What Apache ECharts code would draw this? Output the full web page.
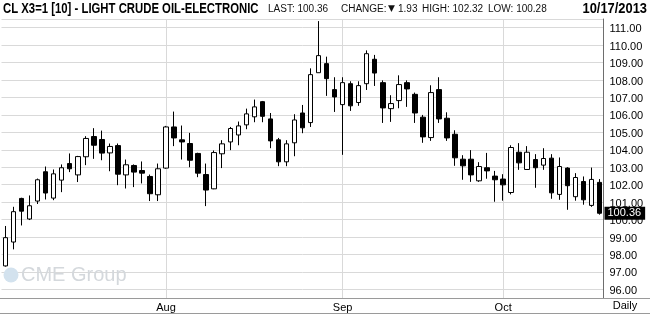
<!DOCTYPE html>
<html>
<head>
<meta charset="utf-8">
<script src="https://cdn.jsdelivr.net/npm/echarts@6/dist/echarts.min.js"></script>
<style>
html,body{margin:0;padding:0;background:#fff;}
#chart{width:650px;height:314px;}
</style>
</head>
<body>
<div id="chart"></div>
<script>
// ---- data ----
const dates = [
  '07/03','07/05','07/08','07/09','07/10','07/11','07/12','07/15','07/16','07/17',
  '07/18','07/19','07/22','07/23','07/24','07/25','07/26','07/29','07/30','07/31',
  '08/01','08/02','08/05','08/06','08/07','08/08','08/09','08/12','08/13','08/14',
  '08/15','08/16','08/19','08/20','08/21','08/22','08/23','08/26','08/27','08/28',
  '08/29','08/30','09/03','09/04','09/05','09/06','09/09','09/10','09/11','09/12',
  '09/13','09/16','09/17','09/18','09/19','09/20','09/23','09/24','09/25','09/26',
  '09/27','09/30','10/01','10/02','10/03','10/04','10/07','10/08','10/09','10/10',
  '10/11','10/14','10/15','10/16','10/17'
];
const opens = [
  97.34,98.71,101.21,100.03,101.06,102.74,101.23,102.26,103.21,102.56,
  103.60,104.76,104.59,103.82,104.24,102.56,103.10,102.81,102.47,101.42,
  102.95,105.31,104.57,104.36,103.79,102.58,101.76,103.77,104.45,104.85,
  105.43,105.89,106.76,105.77,104.57,103.31,104.40,106.11,105.56,108.42,
  108.94,107.45,106.59,107.79,106.71,107.79,109.19,107.85,106.36,106.82,
  107.85,107.18,105.87,104.70,107.45,105.81,104.89,103.46,103.46,102.22,
  102.97,102.49,102.32,101.55,103.86,102.87,103.44,103.12,103.52,101.44,
  102.95,101.31,102.18,100.81,102.13
];
const closes = [
  98.96,100.45,100.48,100.79,102.28,101.52,102.62,102.97,102.91,103.61,
  104.65,104.26,103.81,104.19,102.60,103.14,102.72,102.66,101.48,102.91,
  105.31,104.68,104.45,103.40,102.66,101.69,103.84,104.34,105.22,105.37,
  106.06,106.46,105.92,104.51,103.31,104.34,105.71,105.26,108.31,109.40,
  108.08,107.03,107.85,106.52,107.68,109.51,108.40,106.40,106.65,107.74,
  107.49,106.11,104.74,107.28,105.77,104.68,103.54,103.08,102.56,103.04,
  102.79,102.28,101.99,104.13,103.25,103.86,102.97,103.50,101.53,103.04,
  101.94,102.41,101.13,102.30,100.36
];
const lows = [
  97.30,98.29,99.66,99.97,100.89,101.15,101.11,101.57,102.72,102.15,
  103.12,103.48,103.40,102.77,101.97,101.78,101.86,102.07,101.06,101.06,
  102.91,104.21,103.44,103.00,102.43,100.77,101.74,102.95,103.98,104.26,
  105.18,105.58,105.58,104.09,103.06,103.06,103.63,104.95,105.31,108.42,
  107.09,106.17,103.71,106.23,106.52,107.43,107.66,105.54,105.60,106.38,
  106.46,105.54,104.40,104.51,105.54,104.51,103.08,102.28,102.16,102.16,
  102.34,101.02,101.08,101.44,102.85,102.85,101.82,102.85,101.19,101.13,
  100.56,101.08,100.85,100.73,100.28
];
const highs = [
  99.63,100.73,101.25,101.38,102.35,103.04,102.87,103.16,103.79,103.65,
  104.78,105.24,105.10,104.36,104.36,103.44,103.16,103.33,102.58,103.21,
  105.37,106.19,105.39,104.97,103.83,103.21,103.96,104.55,105.31,105.62,
  106.36,106.88,106.80,106.11,104.68,104.55,106.04,106.57,108.67,111.38,
  109.34,108.16,108.16,107.93,107.93,109.70,109.44,107.98,107.13,108.27,
  107.98,107.28,106.00,107.70,108.16,106.15,105.12,103.69,103.98,103.29,
  103.82,102.79,102.60,104.26,104.38,104.21,103.75,104.09,103.75,103.56,
  103.00,102.66,102.47,102.98,102.32
];
const monthNames = {'08':'Aug','09':'Sep','10':'Oct'};
const lastPrice = 100.36;
const yMin = 95.5, yMax = 111.5;

// ---- build ----
const candles = dates.map((d, i) => [opens[i], closes[i], lows[i], highs[i]]);
const isMonthStart = (i) => i > 0 && dates[i].slice(0, 2) !== dates[i - 1].slice(0, 2);

const FONT = '"Liberation Sans", Arial, sans-serif';
const HDR = '10px ' + FONT;

const chart = echarts.init(document.getElementById('chart'), null, {renderer: 'canvas'});
chart.setOption({
  animation: false,
  backgroundColor: '#fff',
  grid: {left: 1.5, right: 46.5, top: 19, bottom: 16, containLabel: false},
  xAxis: {
    type: 'category',
    data: dates,
    boundaryGap: true,
    axisLine: {show: true, lineStyle: {color: '#9a9a9a', width: 1}},
    axisTick: {show: false},
    axisLabel: {
      interval: (i) => isMonthStart(i),
      formatter: (v) => monthNames[v.slice(0, 2)] || '',
      margin: 4, color: '#000', fontSize: 11, fontFamily: FONT
    },
    splitLine: {
      show: true,
      interval: (i) => isMonthStart(i),
      alignWithLabel: true,
      lineStyle: {color: '#d9d9d9', width: 1}
    }
  },
  yAxis: {
    type: 'value',
    position: 'right',
    min: yMin,
    max: yMax,
    splitNumber: 16,
    axisLine: {show: true, lineStyle: {color: '#6e6e6e', width: 1}},
    axisTick: {show: false},
    axisLabel: {
      formatter: (v) => Number.isInteger(v) ? v.toFixed(2) : '',
      margin: 6, color: '#000', fontSize: 11, fontFamily: FONT,
      verticalAlign: 'top', padding: [-4, 0, 0, 0]
    },
    splitLine: {show: true, lineStyle: {color: '#d9d9d9', width: 1}}
  },
  series: [{
    type: 'candlestick',
    data: candles,
    barWidth: 5,
    clip: false,
    itemStyle: {
      color: '#ffffff', color0: '#000000',
      borderColor: '#000000', borderColor0: '#000000',
      borderWidth: 1
    },
    markLine: {
      silent: true,
      symbol: ['none', 'none'],
      lineStyle: {color: 'rgba(0,0,0,0)', width: 0},
      label: {
        show: true, position: 'end', distance: 1,
        formatter: lastPrice.toFixed(2),
        backgroundColor: '#000', color: '#fff',
        fontSize: 11, fontFamily: FONT, padding: [1, 4, 1, 3]
      },
      data: [{yAxis: lastPrice}],
      z: 10
    }
  }],
  graphic: [
    {type: 'text', z: 100, x: 3, y: 9, scaleX: 0.81,
      style: {text: 'CL X3=1 [10] - LIGHT CRUDE OIL-ELECTRONIC', x: 0, y: 0,
      textVerticalAlign: 'middle', font: 'bold 14px ' + FONT, fill: '#000'}},
    {type: 'text', z: 100, style: {text: 'LAST: 100.36', x: 268, y: 9,
      textVerticalAlign: 'middle', font: HDR, fill: '#111'}},
    {type: 'text', z: 100, style: {text: 'CHANGE:', x: 341, y: 9,
      textVerticalAlign: 'middle', font: HDR, fill: '#111'}},
    {type: 'text', z: 100, style: {text: '\u25BC', x: 388, y: 9,
      textVerticalAlign: 'middle', font: '9px "DejaVu Sans", sans-serif', fill: '#111'}},
    {type: 'text', z: 100, style: {text: '1.93', x: 398, y: 9,
      textVerticalAlign: 'middle', font: HDR, fill: '#111'}},
    {type: 'text', z: 100, style: {text: 'HIGH: 102.32', x: 422, y: 9,
      textVerticalAlign: 'middle', font: HDR, fill: '#111'}},
    {type: 'text', z: 100, style: {text: 'LOW: 100.28', x: 488, y: 9,
      textVerticalAlign: 'middle', font: HDR, fill: '#111'}},
    {type: 'text', z: 100, x: 647, y: 9, scaleX: 0.92,
      style: {text: '10/17/2013', x: 0, y: 0, textAlign: 'right',
      textVerticalAlign: 'middle', font: 'bold 14px ' + FONT, fill: '#000'}},
    {type: 'line', z: 50, shape: {x1: 0, y1: 298.5, x2: 650, y2: 298.5},
      style: {stroke: '#9a9a9a', lineWidth: 1}},
    {type: 'line', z: 50, shape: {x1: 0, y1: 313.5, x2: 650, y2: 313.5},
      style: {stroke: '#9a9a9a', lineWidth: 1}},
    {type: 'text', z: 100, style: {text: 'Daily', x: 625, y: 306, textAlign: 'center',
      textVerticalAlign: 'middle', font: '11px ' + FONT, fill: '#000'}},
    {type: 'circle', z: 1, shape: {cx: 11, cy: 275, r: 7.5},
      style: {fill: '#d3e2ee'}},
    {type: 'text', z: 1, style: {text: 'CME Group', x: 21, y: 275,
      textVerticalAlign: 'middle', font: '20px ' + FONT, fill: '#d4d8dc'}}
  ]
});
</script>
</body>
</html>
